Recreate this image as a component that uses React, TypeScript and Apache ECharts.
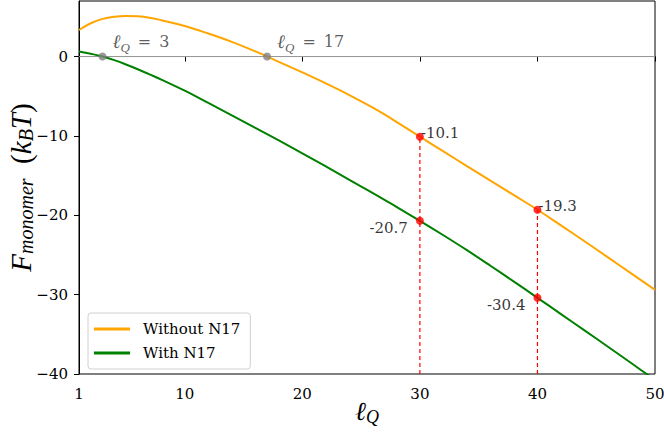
import React, { useEffect, useRef } from "react";
import * as echarts from "echarts";

const xValues = [1, 2, 3, 4, 5, 6, 7, 8, 10, 12, 14, 16, 18, 20, 22, 24, 26, 28, 30, 32, 34, 36, 38, 40, 42, 44, 46, 48, 50];
const yWithout = [3.35, 4.2, 4.75, 5.03, 5.12, 5.08, 4.9, 4.58, 3.85, 2.9, 1.85, 0.65, -0.66, -2.0, -3.38, -4.85, -6.45, -8.22, -10.1, -11.95, -13.8, -15.63, -17.47, -19.3, -21.27, -23.27, -25.3, -27.35, -29.4];
const yWith = [0.65, 0.35, 0, -0.45, -1.0, -1.6, -2.25, -2.9, -4.3, -5.85, -7.4, -8.98, -10.57, -12.2, -13.85, -15.55, -17.2, -18.93, -20.7, -22.52, -24.4, -26.36, -28.36, -30.4, -32.45, -34.5, -36.57, -38.65, -40.75];
const markX = [30, 40];
const markWithout = [-10.1, -19.3];
const markWith = [-20.7, -30.4];
const zeroX = [3, 17];
const xTicks = [1, 10, 20, 30, 40, 50];
const yTicks = [-40, -30, -20, -10, 0];

const FONT = "Liberation Serif";
const RFONT = "DejaVu Serif";
const txt = { fontFamily: RFONT, fontStyle: "normal", fontWeight: "normal", fontSize: 15, color: "#000" };

export default function App() {
  const ref = useRef<HTMLDivElement>(null);
  useEffect(() => {
    if (!ref.current) return;
    const chart = echarts.init(ref.current, undefined, { renderer: "svg" });
    const zip = (xs: number[], ys: number[]) => xs.map((x, i) => [x, ys[i]]);
    const series: any[] = [
      {
        name: "zero",
        type: "line",
        data: [[1, 0], [50, 0]],
        symbol: "none",
        lineStyle: { color: "#a0a0a0", width: 1 },
        z: 1,
        silent: true,
      },
      {
        name: "Without N17",
        type: "line",
        data: zip(xValues, yWithout),
        smooth: 0.4,
        symbol: "none",
        color: "#ffa500",
        lineStyle: { color: "#ffa500", width: 2 },
        z: 3,
      },
      {
        name: "With N17",
        type: "line",
        data: zip(xValues, yWith),
        smooth: 0.4,
        symbol: "none",
        color: "#008000",
        lineStyle: { color: "#008000", width: 2 },
        z: 3,
      },
    ];
    markX.forEach((x, i) => {
      series.push({
        name: "vline" + i,
        type: "line",
        data: [[x, -40], [x, markWithout[i]]],
        symbol: "none",
        lineStyle: { color: "#ff0000", width: 1.2, type: [4, 3] },
        z: 2,
      });
    });
    const numLabel = {
      show: true,
      formatter: (p: any) => String(p.value[1]),
      ...txt,
    };
    series.push({
      name: "ptsTop",
      type: "scatter",
      data: markX.map((x, i) => [x, markWithout[i]]),
      symbolSize: 8,
      itemStyle: { color: "#ff0000" },
      z: 5,
      label: { ...numLabel, position: "right", distance: 0, offset: [-3, -4] },
    });
    series.push({
      name: "ptsBottom",
      type: "scatter",
      data: markX.map((x, i) => [x, markWith[i]]),
      symbolSize: 8,
      itemStyle: { color: "#ff0000" },
      z: 5,
      label: { ...numLabel, position: "left", distance: 8, offset: [0, 7] },
    });
    series.push({
      name: "zeroPts",
      type: "scatter",
      data: zeroX.map((x) => [x, 0]),
      symbolSize: 8,
      itemStyle: { color: "#808080" },
      z: 4,
      label: {
        show: true,
        position: "right",
        distance: 0,
        offset: [6, -15],
        formatter: (p: any) => "{l|ℓ}{s|Q}{t|\u2002=\u2002" + p.value[0] + "}",
        color: "#333",
        rich: {
          l: { fontFamily: FONT, fontStyle: "italic", fontSize: 19, lineHeight: 24, color: "#333" },
          s: { fontFamily: FONT, fontStyle: "italic", fontSize: 13, lineHeight: 14, verticalAlign: "bottom", color: "#333" },
          t: { fontFamily: RFONT, fontStyle: "normal", fontWeight: "normal", fontSize: 16, lineHeight: 24, color: "#333" },
        },
      },
    });

    chart.setOption({
      animation: false,
      backgroundColor: "#fff",
      textStyle: { fontFamily: RFONT, fontStyle: "normal", fontWeight: "normal" },
      grid: {
        left: 79,
        right: 9,
        top: 1,
        bottom: 60,
        outerBoundsMode: "none",
        containLabel: false,
        show: true,
        borderColor: "#000",
        borderWidth: 1,
        backgroundColor: "transparent",
      },
      legend: {
        data: ["Without N17", "With N17"],
        orient: "vertical",
        left: 88,
        top: 313,
        icon: "rect",
        itemWidth: 36,
        itemHeight: 3,
        itemGap: 6,
        borderColor: "#d0d0d0",
        borderWidth: 1,
        borderRadius: 3,
        padding: [7, 10, 7, 6],
        backgroundColor: "#fff",
        textStyle: { ...txt, padding: [0, 0, 0, 8], lineHeight: 18 },
      },
      xAxis: {
        type: "value",
        min: 1,
        max: 50,
        name: "{l|ℓ}{s|Q}",
        nameLocation: "middle",
        nameGap: 22,
        nameMoveOverlap: false,
        nameTextStyle: {
          rich: {
            l: { fontFamily: FONT, fontStyle: "italic", fontSize: 26, lineHeight: 30, color: "#000" },
            s: { fontFamily: FONT, fontStyle: "italic", fontSize: 18, lineHeight: 20, verticalAlign: "bottom", color: "#000" },
          },
        },
        axisLine: { show: true, lineStyle: { color: "#000", width: 1 } },
        axisTick: { show: true, customValues: xTicks, length: 5, lineStyle: { color: "#000" } },
        axisLabel: { customValues: xTicks, margin: 12, ...txt },
        splitLine: { show: false },
      },
      yAxis: {
        type: "value",
        min: -40,
        max: 7,
        name: "{F|F}{s|monomer}{p|\u2002(}{F|k}{s|B}{F|T}{p|)}",
        nameLocation: "middle",
        nameRotate: 90,
        nameGap: 43,
        nameMoveOverlap: false,
        nameTextStyle: {
          rich: {
            F: { fontFamily: FONT, fontStyle: "italic", fontSize: 29, lineHeight: 30, color: "#000" },
            s: { fontFamily: FONT, fontStyle: "italic", fontSize: 20, lineHeight: 18, verticalAlign: "bottom", color: "#000" },
            p: { fontFamily: FONT, fontStyle: "normal", fontSize: 29, lineHeight: 30, color: "#000" },
          },
        },
        axisLine: { show: true, lineStyle: { color: "#000", width: 1 } },
        axisTick: { show: true, customValues: yTicks, length: 5, lineStyle: { color: "#000" } },
        axisLabel: {
          customValues: yTicks,
          margin: 11,
          ...txt,
          formatter: (v: number) => String(v).replace("-", "\u2212"),
        },
        splitLine: { show: false },
      },
      series,
    });
    return () => chart.dispose();
  }, []);
  return <div ref={ref} style={{ position: "fixed", left: 0, top: 0, width: 664, height: 434 }} />;
}
